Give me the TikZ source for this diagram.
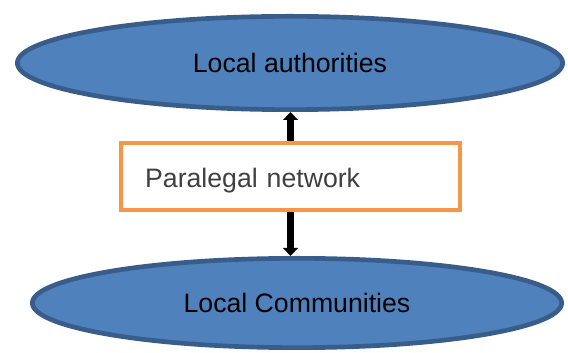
\documentclass[tikz,border=0pt]{standalone}
\usepackage{fontspec}
\setmainfont{Liberation Sans}
\usepackage{tikz}
\usetikzlibrary{arrows.meta,shapes.geometric}
\definecolor{fillblue}{HTML}{4F81BD}
\definecolor{edgeblue}{HTML}{385D8A}
\definecolor{orange}{HTML}{F79646}
\definecolor{grey}{HTML}{404040}
\tikzset{level/.style={ellipse,draw=edgeblue,fill=fillblue,line width=3.5pt,inner sep=0pt,font=\fontsize{20}{24}\selectfont,text=black},
  linkbox/.style={rectangle,draw=orange,line width=3.2pt,fill=white,align=left,inner ysep=0pt,inner xsep=18pt,text width=218pt,text height=20.5pt,text depth=4.2pt,minimum height=50.25pt,font=\fontsize{20}{24}\selectfont,text=grey},
  arr/.style={-{Triangle[length=6pt,width=11pt]},line width=4.6pt,draw=black}}

\begin{document}
\begin{tikzpicture}[x=0.75pt,y=0.75pt]
\useasboundingbox (0,0) rectangle (568,353);
\node[level,minimum width=409pt,minimum height=70pt] (auth) at (290,290) {Local authorities};
\node[level,minimum width=397pt,minimum height=67pt] (comm) at (297,50) {Local Communities};
\node[linkbox] (para) at (290.5,176.5) {Paralegal network};
\draw[arr] (para.north) -- (para.north |- auth.south);
\draw[arr] (para.south) -- (para.south |- comm.north);
\end{tikzpicture}
\end{document}
